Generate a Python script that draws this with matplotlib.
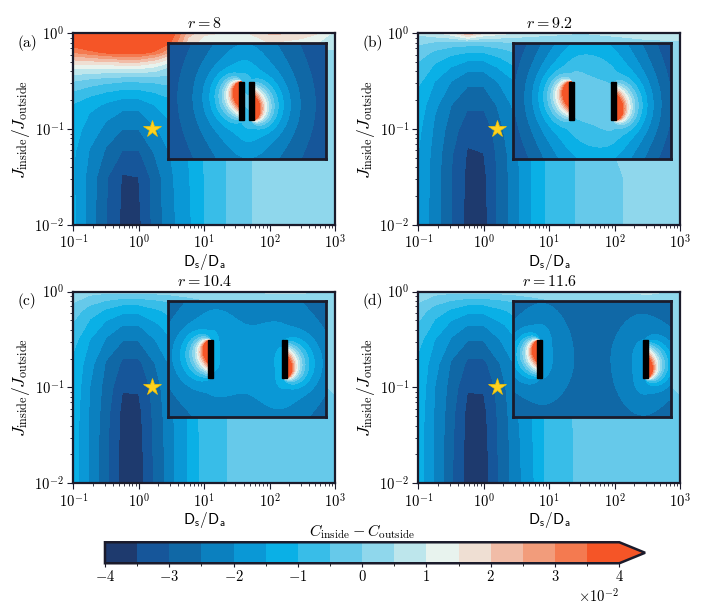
import numpy as np
import matplotlib
matplotlib.use("Agg")
import matplotlib.pyplot as plt
from matplotlib.colors import ListedColormap, BoundaryNorm
from matplotlib.patches import Rectangle

plt.rcParams['mathtext.fontset'] = 'cm'
plt.rcParams['font.family'] = 'serif'
plt.rcParams['font.serif'] = ['cmr10']
plt.rcParams['axes.formatter.use_mathtext'] = True
plt.rcParams['font.size'] = 10.5

log_ds = np.array([-1, -0.75, -0.5, -0.25, 0, 0.25, 0.5, 0.75, 1, 1.5, 2, 2.5, 3])
log_j = np.array([-2, -1.5, -1.25, -1, -0.75, -0.5, -0.35, -0.2, -0.1, 0])

map_a = np.array([
    [-1.4, -2.3, -3.0, -3.65, -3.6, -2.75, -2.1, -1.6, -1.0, -0.1, 0.2, 0.3, 0.3],
    [-1.45, -2.25, -2.95, -3.55, -3.5, -2.7, -2.05, -1.55, -1.0, -0.1, 0.2, 0.3, 0.3],
    [-1.45, -2.05, -2.6, -3.05, -3.05, -2.45, -1.95, -1.5, -0.95, -0.1, 0.2, 0.3, 0.3],
    [-1.3, -1.75, -2.15, -2.5, -2.5, -2.05, -1.6, -1.2, -0.8, -0.1, 0.2, 0.3, 0.3],
    [-1.05, -1.35, -1.6, -1.8, -1.8, -1.5, -1.2, -0.9, -0.6, 0.0, 0.25, 0.3, 0.3],
    [0.0, -0.2, -0.35, -0.45, -0.45, -0.4, -0.3, -0.1, 0.1, 0.3, 0.35, 0.35, 0.35],
    [1.2, 1.2, 1.2, 1.25, 1.25, 1.0, 0.4, 0.4, 0.4, 0.4, 0.4, 0.4, 0.4],
    [3.0, 3.3, 3.6, 3.8, 3.8, 3.3, 2.4, 1.2, 0.8, 0.6, 0.6, 0.5, 0.45],
    [3.9, 4.3, 4.6, 4.8, 4.8, 4.5, 3.4, 1.8, 1.2, 1.0, 1.5, 1.2, 0.6],
    [5.5, 6.0, 6.0, 6.0, 6.0, 5.5, 3.8, 2.2, 1.6, 1.3, 2.1, 1.9, 0.8],
])
map_b = np.array([
    [-1.6, -2.3, -3.0, -3.7, -3.65, -2.8, -2.1, -1.45, -0.85, -0.35, -0.02, 0.1, 0.15],
    [-1.55, -2.3, -3.0, -3.65, -3.6, -2.8, -2.1, -1.45, -0.85, -0.35, -0.02, 0.1, 0.15],
    [-1.5, -2.25, -2.95, -3.55, -3.5, -2.75, -2.05, -1.45, -0.85, -0.35, 0.0, 0.1, 0.15],
    [-1.4, -2.1, -2.8, -3.3, -3.3, -2.6, -1.95, -1.4, -0.85, -0.35, 0.0, 0.1, 0.15],
    [-1.25, -1.9, -2.5, -2.9, -2.9, -2.35, -1.8, -1.3, -0.8, -0.35, 0.0, 0.1, 0.15],
    [-0.9, -1.5, -2.0, -2.35, -2.35, -1.9, -1.45, -1.0, -0.6, -0.3, 0.0, 0.1, 0.15],
    [-0.6, -1.1, -1.5, -1.8, -1.8, -1.4, -1.0, -0.7, -0.4, -0.2, 0.0, 0.1, 0.15],
    [-0.3, -0.6, -0.85, -1.0, -1.0, -0.75, -0.5, -0.3, -0.1, 0.0, 0.1, 0.15, 0.2],
    [0.1, -0.1, -0.2, -0.25, -0.25, -0.15, 0.0, 0.1, 0.2, 0.2, 0.3, 0.35, 0.4],
    [0.6, 0.9, 1.3, 2.5, 1.5, 1.2, 0.9, 0.7, 0.6, 0.5, 0.6, 0.8, 0.9],
])
map_c = np.array([
    [-1.3, -2.1, -2.9, -3.75, -3.7, -2.9, -2.1, -1.5, -0.7, -0.35, -0.3, -0.25, -0.25],
    [-1.3, -2.1, -2.9, -3.7, -3.65, -2.85, -2.1, -1.5, -0.7, -0.35, -0.3, -0.25, -0.2],
    [-1.25, -2.05, -2.85, -3.65, -3.6, -2.8, -2.05, -1.45, -0.7, -0.35, -0.3, -0.2, -0.1],
    [-1.2, -2.0, -2.75, -3.45, -3.45, -2.7, -2.0, -1.4, -0.7, -0.35, -0.25, -0.1, 0.05],
    [-1.1, -1.85, -2.55, -3.1, -3.1, -2.5, -1.85, -1.3, -0.65, -0.3, -0.2, 0.0, 0.1],
    [-0.85, -1.5, -2.05, -2.45, -2.45, -2.0, -1.5, -1.05, -0.55, -0.25, -0.1, 0.05, 0.15],
    [-0.55, -1.15, -1.65, -2.0, -2.0, -1.6, -1.2, -0.8, -0.45, -0.2, 0.0, 0.1, 0.2],
    [-0.3, -0.75, -1.1, -1.35, -1.35, -1.1, -0.8, -0.5, -0.3, -0.1, 0.1, 0.2, 0.25],
    [0.05, -0.3, -0.55, -0.75, -0.75, -0.6, -0.4, -0.2, -0.05, 0.1, 0.2, 0.3, 0.3],
    [0.3, 0.2, 0.15, 0.2, 0.2, 0.2, 0.25, 0.3, 0.35, 0.4, 0.6, 0.55, 0.4],
])
map_d = np.array([
    [-1.3, -2.1, -2.95, -3.75, -3.7, -2.9, -2.15, -1.55, -0.75, -0.35, -0.3, -0.25, -0.25],
    [-1.3, -2.1, -2.9, -3.7, -3.65, -2.85, -2.1, -1.5, -0.75, -0.35, -0.3, -0.25, -0.2],
    [-1.25, -2.05, -2.85, -3.65, -3.6, -2.8, -2.05, -1.45, -0.7, -0.35, -0.3, -0.2, -0.1],
    [-1.2, -2.0, -2.75, -3.45, -3.45, -2.7, -2.0, -1.4, -0.7, -0.35, -0.25, -0.1, 0.05],
    [-1.1, -1.85, -2.55, -3.1, -3.1, -2.5, -1.85, -1.3, -0.65, -0.3, -0.2, 0.0, 0.1],
    [-0.85, -1.5, -2.05, -2.45, -2.45, -2.0, -1.5, -1.05, -0.55, -0.25, -0.1, 0.05, 0.15],
    [-0.55, -1.15, -1.65, -2.0, -2.0, -1.6, -1.2, -0.8, -0.45, -0.2, 0.0, 0.1, 0.2],
    [-0.3, -0.75, -1.1, -1.35, -1.35, -1.1, -0.8, -0.5, -0.3, -0.1, 0.1, 0.2, 0.25],
    [0.05, -0.3, -0.55, -0.75, -0.75, -0.6, -0.4, -0.2, -0.05, 0.1, 0.2, 0.3, 0.3],
    [0.3, 0.2, 0.15, 0.2, 0.2, 0.2, 0.25, 0.3, 0.35, 0.4, 0.5, 0.6, 0.4],
])
maps = [map_a, map_b, map_c, map_d]

r_values = ['8', '9.2', '10.4', '11.6']
panel_tags = ['(a)', '(b)', '(c)', '(d)']
star_ds, star_j = 1.6, 0.1

# --- insets: plate positions and field parameters ---
inset_w, inset_h = 158.0, 116.0
plate_y0, plate_y1 = 39.0, 77.0
plate_x = [(73.5, 83.5), (58.8, 100.8), (42.5, 116.1), (26.4, 132.2)]
inset_base = [-3.7, -4.15, -3.4, -4.0]
inset_bump = [0.7, 1.7, 0.85, 1.3]
lobe_amp, ring_amp, plate_skew = 7.0, 1.2, 0.6

levels = np.arange(-4, 4.01, 0.5)
band_colors = ['#1e3a6e', '#16569a', '#1068a6', '#0b80bf', '#0a98d6', '#0ab0e6',
               '#38bde8', '#66c9ea', '#8fd7ec', '#bde6ec', '#e8f3ee', '#efdfd3',
               '#f1bca7', '#f29c7b', '#f47a50', '#f55527']
cmap = ListedColormap(band_colors)
cmap.set_over('#f55527')
norm = BoundaryNorm(levels * 1e-2, cmap.N)
edge = '#1b1b2b'


def inset_field(k):
    gx = np.linspace(0, inset_w, 340)
    gy = np.linspace(0, inset_h, 250)
    X, Y = np.meshgrid(gx, gy)
    F = np.full(X.shape, inset_base[k])
    yc, half = 0.5 * (plate_y0 + plate_y1), 0.5 * (plate_y1 - plate_y0)
    cuts = np.linspace(plate_y0, plate_y1, 21)
    mids = 0.5 * (cuts[1:] + cuts[:-1])
    for xp, s in zip(plate_x[k], (-1, 1)):
        dx = s * (X - xp)
        dx = np.where(np.abs(dx) < 1e-6, 1e-6, dx)
        dens = 1 - plate_skew * s * (mids - yc) / half
        # signed view angle of the plate (outer side > 0), weighted along the plate
        D = np.zeros_like(X)
        for y0, y1, wgt in zip(cuts[:-1], cuts[1:], dens):
            D += wgt * (np.arctan((y1 - Y) / dx) - np.arctan((y0 - Y) / dx))
        D /= np.pi
        # the hot half: upper part of the left plate, lower part of the right one
        lo, hi = (yc, plate_y1) if s < 0 else (plate_y0, yc)
        rho_hot = np.hypot(X - xp, 0.6 * (Y - np.clip(Y, lo, hi)))
        F += lobe_amp * np.clip(D, 0, None) ** 2 + ring_amp * np.exp(-rho_hot / 20)
        rho_e = np.hypot(X - xp, (Y - yc) / 2.0)
        F += inset_bump[k] * np.exp(-(rho_e / 60) ** 2)
    return gx, gy, F


fig = plt.figure(figsize=(7.06, 6.05), dpi=100)
boxes = [[0.1038, 0.628, 0.3707, 0.3169], [0.5925, 0.628, 0.3707, 0.3169],
         [0.1038, 0.2011, 0.3707, 0.3169], [0.5925, 0.2011, 0.3707, 0.3169]]

for k, box in enumerate(boxes):
    ax = fig.add_axes(box)
    cs = ax.contourf(10 ** log_ds, 10 ** log_j, maps[k] * 1e-2, levels=levels * 1e-2,
                     cmap=cmap, norm=norm, extend='max')
    ax.set_xscale('log')
    ax.set_yscale('log')
    ax.set_xlim(0.1, 1000)
    ax.set_ylim(0.01, 1)
    ax.plot(star_ds, star_j, marker='*', color='#ffd21f', ms=13, mec='#f5c400', mew=0.5, zorder=5)
    ax.set_xlabel(r'$\mathsf{D_s/D_a}$', fontsize=11, labelpad=0)
    ax.set_ylabel(r'$J_{\rm inside}/J_{\rm outside}$', fontsize=12.5, labelpad=2)
    ax.set_title(r'$r = %s$' % r_values[k], fontsize=11.5, pad=4)
    ax.text(-0.215, 0.95, panel_tags[k], transform=ax.transAxes, ha='left', va='center',
            fontsize=11)
    ax.tick_params(which='both', direction='out', color=edge, labelsize=10.5)
    ax.tick_params(which='major', length=4, pad=2.5)
    ax.tick_params(which='minor', length=2.2)
    for sp in ax.spines.values():
        sp.set_linewidth(1.6)
        sp.set_color(edge)

    ins = ax.inset_axes([0.362, 0.344, 0.604, 0.606])
    gx, gy, F = inset_field(k)
    ins.contourf(gx, gy, F * 1e-2, levels=levels * 1e-2, cmap=cmap, norm=norm, extend='max')
    for xp in plate_x[k]:
        ins.add_patch(Rectangle((xp - 2.5, plate_y0), 5, plate_y1 - plate_y0, color='k', zorder=3))
    ins.set_xlim(0, inset_w)
    ins.set_ylim(0, inset_h)
    ins.set_xticks([])
    ins.set_yticks([])
    for sp in ins.spines.values():
        sp.set_linewidth(2)
        sp.set_color(edge)

cax = fig.add_axes([0.1487, 0.069, 0.765, 0.0347])
cb = fig.colorbar(cs, cax=cax, orientation='horizontal', extend='max')
cb.set_ticks(np.arange(-4, 5) * 1e-2)
cb.formatter.set_powerlimits((0, 0))
cb.formatter.set_useMathText(True)
cb.outline.set_linewidth(1.8)
cb.outline.set_edgecolor(edge)
cax.tick_params(direction='out', length=3, pad=1, color=edge, labelsize=10.5)
cax.xaxis.set_label_position('top')
cb.set_label(r'$C_{\rm inside} - C_{\rm outside}$', labelpad=4, fontsize=11.5)

fig.savefig('out.png', dpi=100)
